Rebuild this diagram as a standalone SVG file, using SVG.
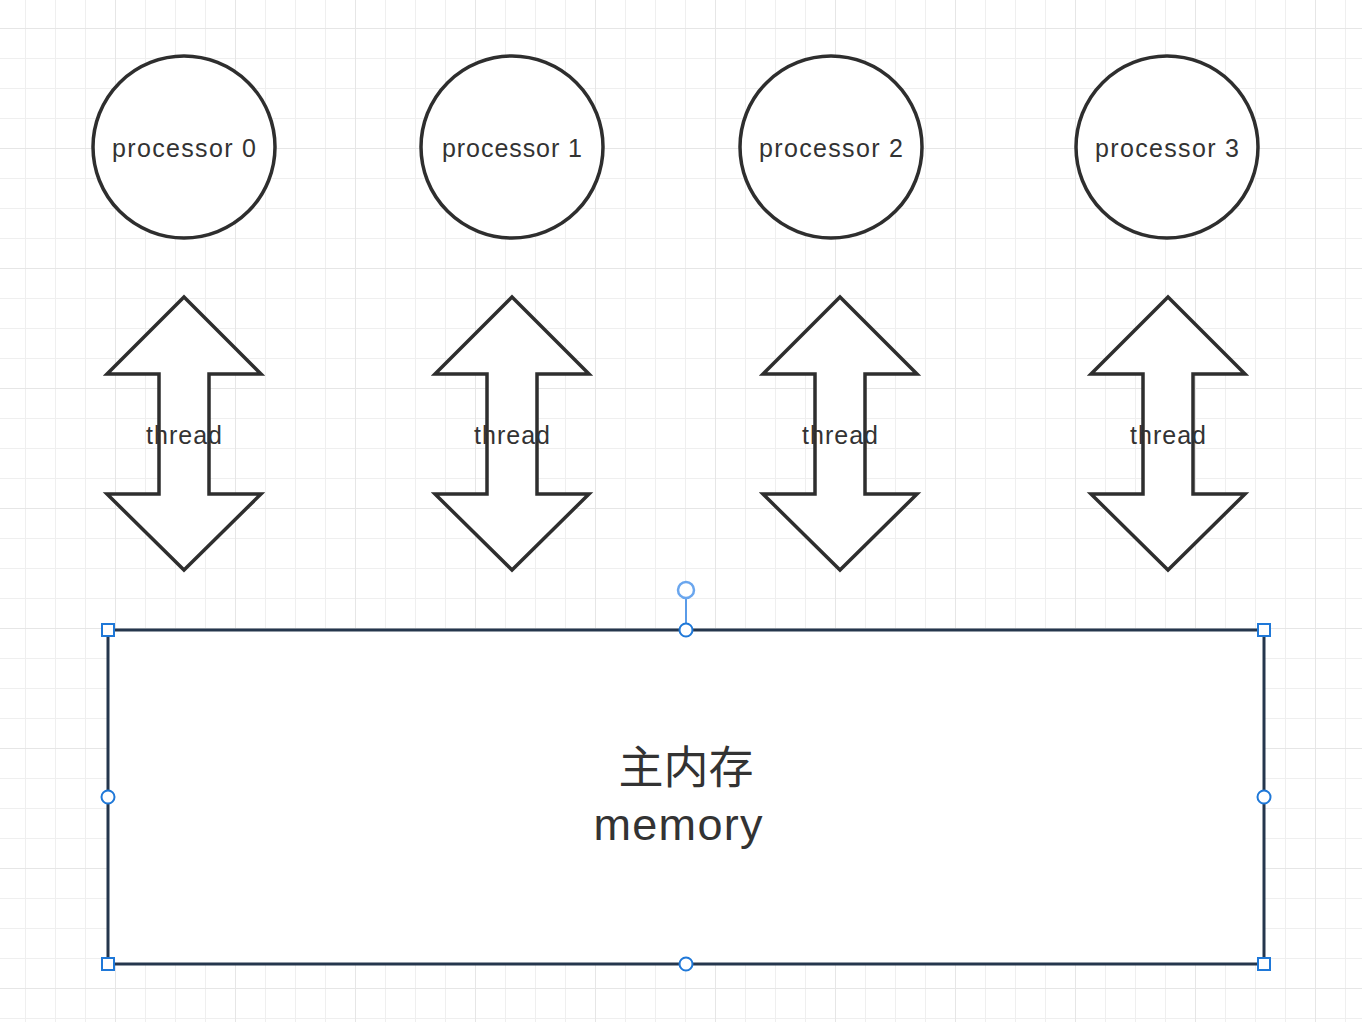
<svg xmlns="http://www.w3.org/2000/svg" width="1362" height="1022" viewBox="0 0 1362 1022">
<defs>
<pattern id="minor" x="25" y="28" width="30" height="30" patternUnits="userSpaceOnUse">
<path d="M0 0V30M0 0H30" fill="none" stroke="#efefef" stroke-width="2"/>
</pattern>
<pattern id="major" x="115" y="28" width="120" height="120" patternUnits="userSpaceOnUse">
<path d="M0 0V120M0 0H120" fill="none" stroke="#e6e6e6" stroke-width="2"/>
</pattern>
<path id="arrow" d="M0 297L77 374H25V494H77L0 570L-77 494H-25V374H-77Z"/>
</defs>
<style>
.proc{fill:#fff;stroke:#2e2e2e;stroke-width:3.5}
.arr{fill:#fff;stroke:#2e2e2e;stroke-width:3.5;stroke-linejoin:miter}
.lbl{font-family:"Liberation Sans","Noto Sans CJK SC",sans-serif;fill:#333;text-anchor:middle}
.h-sq{fill:#fff;stroke:#1f78d8;stroke-width:2}
.h-ci{fill:#fff;stroke:#1f78d8;stroke-width:2}
</style>
<rect width="1362" height="1022" fill="#fff"/>
<rect width="1362" height="1022" fill="url(#minor)"/>
<rect width="1362" height="1022" fill="url(#major)"/>

<g id="processor0"><circle class="proc" cx="184" cy="147" r="91"/><text class="lbl" x="184" y="157" font-size="25" textLength="144" lengthAdjust="spacing">processor 0</text></g>
<g id="processor1"><circle class="proc" cx="512" cy="147" r="91"/><text class="lbl" x="512" y="157" font-size="25" textLength="140" lengthAdjust="spacing">processor 1</text></g>
<g id="processor2"><circle class="proc" cx="831" cy="147" r="91"/><text class="lbl" x="831" y="157" font-size="25" textLength="144" lengthAdjust="spacing">processor 2</text></g>
<g id="processor3"><circle class="proc" cx="1167" cy="147" r="91"/><text class="lbl" x="1167" y="157" font-size="25" textLength="144" lengthAdjust="spacing">processor 3</text></g>

<g id="connectors">
<g id="thread0"><use href="#arrow" class="arr" x="184"/><text class="lbl" x="184" y="444" font-size="25" textLength="76" lengthAdjust="spacing">thread</text></g>
<g id="thread1"><use href="#arrow" class="arr" x="512"/><text class="lbl" x="512" y="444" font-size="25" textLength="76" lengthAdjust="spacing">thread</text></g>
<g id="thread2"><use href="#arrow" class="arr" x="840"/><text class="lbl" x="840" y="444" font-size="25" textLength="76" lengthAdjust="spacing">thread</text></g>
<g id="thread3"><use href="#arrow" class="arr" x="1168"/><text class="lbl" x="1168" y="444" font-size="25" textLength="76" lengthAdjust="spacing">thread</text></g>
</g>

<g id="memory">
<rect x="108" y="630" width="1156" height="334" fill="#fff" stroke="#25364d" stroke-width="3"/>
<text class="lbl" x="686" y="784" font-size="45">主内存</text>
<text class="lbl" x="678" y="840" font-size="45" textLength="169" lengthAdjust="spacing">memory</text>
<line x1="686" y1="598" x2="686" y2="624" stroke="#5a9be8" stroke-width="2"/>
<circle cx="686" cy="590" r="8" fill="#fff" stroke="#6aa6ee" stroke-width="2.5"/>
<rect class="h-sq" x="102" y="624" width="12" height="12"/>
<rect class="h-sq" x="1258" y="624" width="12" height="12"/>
<rect class="h-sq" x="102" y="958" width="12" height="12"/>
<rect class="h-sq" x="1258" y="958" width="12" height="12"/>
<circle class="h-ci" cx="686" cy="630" r="6.5"/>
<circle class="h-ci" cx="686" cy="964" r="6.5"/>
<circle class="h-ci" cx="108" cy="797" r="6.5"/>
<circle class="h-ci" cx="1264" cy="797" r="6.5"/>
</g>
</svg>
